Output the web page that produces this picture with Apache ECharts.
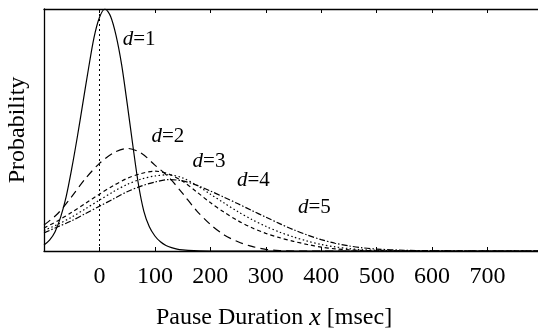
<!DOCTYPE html>
<html>
<head>
<meta charset="utf-8">
<script src="https://cdn.jsdelivr.net/npm/echarts@6/dist/echarts.min.js"></script>
<style>html,body{margin:0;padding:0;background:#fff}#c{width:538px;height:333px}</style>
</head>
<body>
<div id="c"></div>
<script>
// x samples (msec)
const x1 = [-100,-90,-80,-70,-60,-50,-40,-30,-20,-10,0,10,20,30,40,50,60,70,80,90,100,110,120,130,140,150,160,180,200,300,400,500,600,700,800];
const d1 = [0.025,0.045,0.08,0.14,0.225,0.34,0.47,0.61,0.75,0.88,0.965,1.0,0.97,0.89,0.77,0.61,0.44,0.28,0.165,0.1,0.062,0.038,0.023,0.014,0.008,0.0045,0.0025,0.0005,0,0,0,0,0,0,0];
const xs = [-100,-75,-50,-25,0,25,50,75,100,125,150,175,200,225,250,275,300,325,350,375,400,425,450,475,500,550,600,650,700,750,800];
const d2 = [0.107,0.155,0.225,0.3,0.362,0.405,0.424,0.405,0.355,0.305,0.238,0.167,0.11,0.066,0.038,0.019,0.007,0.002,0,0,0,0,0,0,0,0,0,0,0,0,0];
const d3 = [0.095,0.125,0.16,0.197,0.235,0.27,0.3,0.32,0.33,0.318,0.288,0.245,0.2,0.16,0.125,0.096,0.073,0.055,0.04,0.027,0.016,0.009,0.005,0.002,0.001,0,0,0,0,0,0];
const d4 = [0.085,0.11,0.14,0.175,0.21,0.245,0.275,0.297,0.31,0.315,0.302,0.272,0.235,0.198,0.162,0.13,0.102,0.078,0.058,0.041,0.027,0.017,0.01,0.005,0.003,0.001,0,0,0,0,0];
const d5 = [0.075,0.1,0.125,0.155,0.185,0.215,0.245,0.268,0.285,0.295,0.29,0.272,0.248,0.222,0.195,0.167,0.14,0.113,0.088,0.066,0.047,0.032,0.021,0.013,0.008,0.003,0.001,0,0,0,0];
const tickLabels = ['0','100','200','300','400','500','600','700'];
const curveNames = ['d=1','d=2','d=3','d=4','d=5'];
const labelPos = [[41,0.872],[93,0.473],[167,0.37],[247,0.29],[357,0.178]];

const FONT = 'Liberation Serif';
const zip = (xa, ya) => xa.map((v, i) => [v, ya[i]]);
function lbl(i) {
  const n = curveNames[i].split('=')[1];
  return {
    coord: labelPos[i],
    symbol: 'circle', symbolSize: 1,
    itemStyle: { color: 'rgba(0,0,0,0)' },
    label: {
      show: true, position: 'right', distance: 0,
      formatter: '{i|d}{n|=' + n + '}',
      rich: {
        i: { fontFamily: FONT, fontStyle: 'italic', fontSize: 21, color: '#000' },
        n: { fontFamily: FONT, fontSize: 21, color: '#000' }
      }
    }
  };
}
const lineBase = { type: 'line', showSymbol: false, symbol: 'none', smooth: 0.3, silent: true };
const chart = echarts.init(document.getElementById('c'), null, { renderer: 'canvas' });
chart.setOption({
  animation: false,
  backgroundColor: '#fff',
  grid: { left: 44, top: 9, bottom: 82, right: -5, containLabel: false, outerBoundsMode: 'none' },
  title: {
    text: 'Pause Duration {i|x} [msec]',
    left: 151, top: 300,
    textStyle: {
      fontFamily: FONT, fontSize: 24, fontWeight: 'normal', color: '#000',
      rich: { i: { fontFamily: FONT, fontStyle: 'italic', fontSize: 26, color: '#000' } }
    }
  },
  xAxis: [{
    type: 'value', min: -100, max: 800, interval: 100, position: 'bottom',
    axisLine: { show: true, onZero: false, lineStyle: { color: '#000', width: 1.3 } },
    axisTick: { show: true, inside: true, length: 4, lineStyle: { color: '#000' } },
    axisLabel: {
      show: true, margin: 14, color: '#000', fontFamily: FONT, fontSize: 24,
      formatter: v => tickLabels.indexOf(String(v)) >= 0 ? String(v) : ''
    },
    splitLine: { show: false }
  }, {
    type: 'value', min: -100, max: 800, interval: 100, position: 'top',
    axisLine: { show: true, onZero: false, lineStyle: { color: '#000', width: 1.3 } },
    axisTick: { show: true, inside: true, length: 4, lineStyle: { color: '#000' } },
    axisLabel: { show: false },
    splitLine: { show: false }
  }],
  yAxis: {
    type: 'value', min: 0, max: 1,
    name: 'Probability', nameLocation: 'middle', nameGap: 14,
    nameTextStyle: { fontFamily: FONT, fontSize: 24, color: '#000' },
    axisLine: { show: true, onZero: false, lineStyle: { color: '#000', width: 1.3 } },
    axisTick: { show: false }, axisLabel: { show: false }, splitLine: { show: false }
  },
  series: [
    Object.assign({}, lineBase, { name: curveNames[0], data: zip(x1, d1),
      lineStyle: { color: '#000', width: 1.2, type: 'solid' },
      markLine: { silent: true, symbol: 'none', label: { show: false },
        lineStyle: { color: '#000', width: 1, type: [2, 3] }, data: [{ xAxis: 0 }] },
      markPoint: { data: [lbl(0)] } }),
    Object.assign({}, lineBase, { name: curveNames[1], data: zip(xs, d2),
      lineStyle: { color: '#000', width: 1.2, type: [8, 5] }, markPoint: { data: [lbl(1)] } }),
    Object.assign({}, lineBase, { name: curveNames[2], data: zip(xs, d3),
      lineStyle: { color: '#000', width: 1.2, type: [4, 3] }, markPoint: { data: [lbl(2)] } }),
    Object.assign({}, lineBase, { name: curveNames[3], data: zip(xs, d4),
      lineStyle: { color: '#000', width: 1.2, type: [1.5, 2.5] }, markPoint: { data: [lbl(3)] } }),
    Object.assign({}, lineBase, { name: curveNames[4], data: zip(xs, d5),
      lineStyle: { color: '#000', width: 1.2, type: [6, 2, 1.5, 2] }, markPoint: { data: [lbl(4)] } })
  ]
});
</script>
</body>
</html>
